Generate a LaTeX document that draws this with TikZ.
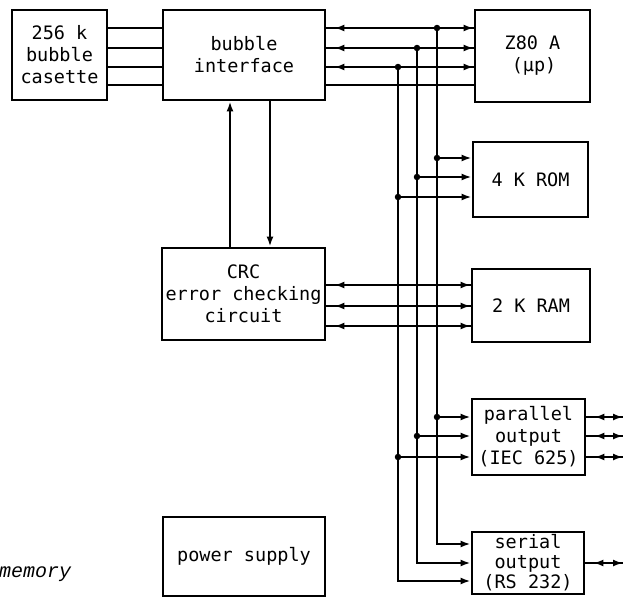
\documentclass[tikz,border=0pt]{standalone}
\usepackage{fontspec}
\usetikzlibrary{arrows.meta,decorations.markings}
\newfontfamily\tw{DejaVu Sans Mono}
\newfontfamily\twit{Liberation Mono}
\begin{document}
\begin{tikzpicture}[x=1pt,y=-1pt,
  box/.style={draw,line width=2.8pt,inner sep=0pt,align=center,
    font=\tw\fontsize{18.5}{22}\selectfont},
  wire/.style={line width=2.4pt},
  bi/.style={wire,postaction={decorate,decoration={markings,
    mark=at position 8pt with {\arrowreversed{Latex[length=10pt,width=7pt]}},
    mark=at position 1 with {\arrow{Latex[length=10pt,width=7pt]}}}}},
  onearrow/.style={wire,-{Latex[length=10pt,width=7pt]}},
  dot/.style={circle,fill,inner sep=0pt,minimum size=6.5pt}]
\useasboundingbox (0,0) rectangle (623,597);
\fill[white] (0,0) rectangle (623,597);

% boxes
\node[box,minimum width=95pt,minimum height=90pt] (cas) at (59.5,55) {256 k\\bubble\\casette};
\node[box,minimum width=162pt,minimum height=90pt] (intf) at (244,55) {bubble\\interface};
\node[box,minimum width=115pt,minimum height=92pt] (z80) at (532.5,56) {Z80 A\\\,(μp)};
\node[box,minimum width=115pt,minimum height=75pt] (rom) at (530.5,179.5) {4 K ROM};
\node[box,minimum width=163pt,minimum height=92pt] (crc) at (243.5,294) {CRC\\error checking\\circuit};
\node[box,minimum width=118pt,minimum height=73pt] (ram) at (531,305.5) {2 K RAM};
\node[box,minimum width=113pt,minimum height=76pt] (par) at (528.5,437) {parallel\\output\\(IEC 625)};
\node[box,minimum width=112pt,minimum height=62pt,font=\tw\fontsize{18.5}{20}\selectfont] (ser) at (528,563) {serial\\output\\(RS 232)};
\node[box,minimum width=162pt,minimum height=79pt] (pwr) at (244,556.5) {power supply};
\node[anchor=base west,inner sep=0pt,font=\twit\itshape\fontsize{20}{22}\selectfont] (mem) at (-1,577) {memory};

% cassette to interface
\foreach \y in {28,48,67,85}
  \draw[wire] (cas.east |- 0,\y) -- (intf.west |- 0,\y);

% interface <-> CRC
\draw[onearrow] (crc.north -| 230,0) -- (intf.south -| 230,0);
\draw[onearrow] (intf.south -| 270,0) -- (crc.north -| 270,0);

% interface to Z80
\foreach \y in {28,48,67}
  \draw[bi] (intf.east |- 0,\y) -- (z80.west |- 0,\y);
\draw[wire] (intf.east |- 0,85) -- (z80.west |- 0,85);

% bus coordinates
\coordinate (a0) at (437,28);
\coordinate (b0) at (417,48);
\coordinate (c0) at (398,67);
\coordinate (a1) at (437,544);
\coordinate (b1) at (417,563);
\coordinate (c1) at (398,581);

\draw[onearrow] (a0) -- (a1) -- (ser.west |- a1);
\draw[onearrow] (b0) -- (b1) -- (ser.west |- b1);
\draw[onearrow] (c0) -- (c1) -- (ser.west |- c1);
\node[dot] at (a0) {};
\node[dot] at (b0) {};
\node[dot] at (c0) {};

% ROM branches
\coordinate (ra) at (437,158);
\coordinate (rb) at (417,177);
\coordinate (rc) at (398,197);
\draw[onearrow] (ra) -- (rom.west |- ra);
\draw[onearrow] (rb) -- (rom.west |- rb);
\draw[onearrow] (rc) -- (rom.west |- rc);
\node[dot] at (ra) {};
\node[dot] at (rb) {};
\node[dot] at (rc) {};

% CRC to RAM
\foreach \y in {285,306,326}
  \draw[bi] (crc.east |- 0,\y) -- (ram.west |- 0,\y);

% parallel branches
\coordinate (pa) at (437,417);
\coordinate (pb) at (417,436);
\coordinate (pc) at (398,457);
\draw[onearrow] (pa) -- (par.west |- pa);
\draw[onearrow] (pb) -- (par.west |- pb);
\draw[onearrow] (pc) -- (par.west |- pc);
\node[dot] at (pa) {};
\node[dot] at (pb) {};
\node[dot] at (pc) {};

% outputs to the right
\coordinate (po1) at (623,417);
\coordinate (po2) at (623,436);
\coordinate (po3) at (623,457);
\coordinate (so) at (623,563);
\draw[bi] (par.east |- po1) -- (po1);
\draw[bi] (par.east |- po2) -- (po2);
\draw[bi] (par.east |- po3) -- (po3);
\draw[bi] (ser.east |- so) -- (so);
\end{tikzpicture}
\end{document}
